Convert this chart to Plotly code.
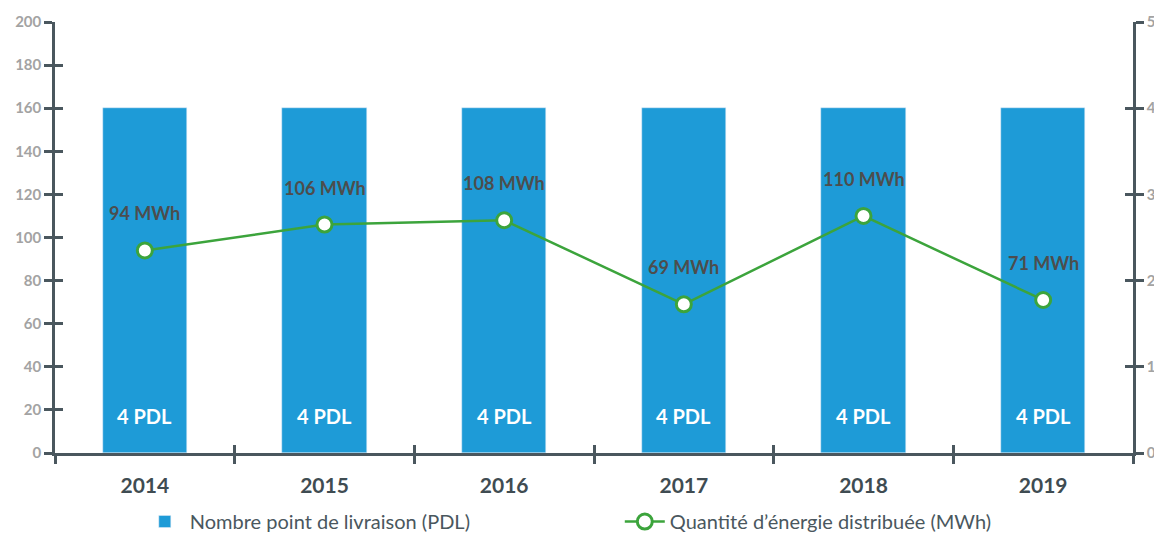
import plotly.graph_objects as go

years = ["2014", "2015", "2016", "2017", "2018", "2019"]
pdl = [4, 4, 4, 4, 4, 4]
mwh = [94, 106, 108, 69, 110, 71]
left_ticks = [0, 20, 40, 60, 80, 100, 120, 140, 160, 180, 200]
right_ticks = [0, 1, 2, 3, 4, 5]

BLUE = "#1e9bd7"
GREEN = "#3ca43c"
AXIS = "#4a575e"
TICKGREY = "#a3a3a3"
FONT = "Lato"

fig = go.Figure()

fig.add_trace(go.Bar(
    x=years, y=pdl, name="Nombre point de livraison (PDL)",
    marker_color=BLUE, width=0.47, yaxis="y", xaxis="x",
))
fig.add_trace(go.Scatter(
    x=years, y=mwh, name="Quantité d’énergie distribuée (MWh)",
    mode="lines+markers", yaxis="y2", xaxis="x",
    line=dict(color=GREEN, width=2.5),
    marker=dict(size=15, color="white", line=dict(color=GREEN, width=3)),
))

annotations = []
# x given as category index
for i, v in enumerate(mwh):
    annotations.append(dict(
        x=i, y=v, xref="x", yref="y2", yshift=37, showarrow=False,
        text=f"{v} MWh", font=dict(family=FONT, size=18, color="#4d4d4d", weight="bold"),
    ))
for i, n in enumerate(pdl):
    annotations.append(dict(
        x=i, y=0, xref="x", yref="y", yshift=37, showarrow=False,
        text=f"{n} PDL", font=dict(family=FONT, size=20, color="white", weight="bold"),
    ))

common_y = dict(showgrid=False, zeroline=False, showline=True, linecolor=AXIS,
                linewidth=2.5, tickcolor=AXIS, tickwidth=2.5, ticklen=8)

# page body adds an 8px margin, so the figure is sized to fit inside the window
fig.update_layout(
    width=1146, height=524,
    margin=dict(l=47, r=21, t=14, b=79),
    plot_bgcolor="white", paper_bgcolor="white",
    font=dict(family=FONT),
    bargap=0,
    xaxis=dict(type="category", categoryorder="array", categoryarray=years,
               range=[-0.5, 5.5], tickson="boundaries", ticks="outside",
               ticklen=8, tickwidth=2.5, tickcolor=AXIS,
               showline=True, linecolor=AXIS, linewidth=2.5, showgrid=False,
               tickfont=dict(family=FONT, size=21, color="#3f4c52", weight="bold"),
               ticklabelstandoff=12, automargin=False),
    xaxis2=dict(type="category", categoryorder="array", categoryarray=years,
                range=[-0.5, 5.5], tickson="boundaries", ticks="inside",
                ticklen=8, tickwidth=2.5, tickcolor=AXIS, overlaying="x",
                showticklabels=False, showgrid=False, anchor="y"),
    yaxis=dict(side="right", range=[0, 5], tickvals=right_ticks, ticks="outside",
               tickfont=dict(family=FONT, size=15, color=TICKGREY, weight="bold"),
               anchor="x", automargin=False, **common_y),
    yaxis2=dict(side="left", range=[0, 200], tickvals=left_ticks, ticks="outside",
                overlaying="y", anchor="x", automargin=False,
                tickfont=dict(family=FONT, size=15, color=TICKGREY, weight="bold"),
                **common_y),
    yaxis3=dict(side="left", range=[0, 200], tickvals=left_ticks, ticks="inside",
                overlaying="y", anchor="x", showticklabels=False, **common_y),
    yaxis4=dict(side="right", range=[0, 5], tickvals=right_ticks, ticks="inside",
                overlaying="y", anchor="x", showticklabels=False, **common_y),
    legend=dict(orientation="h", yref="container", xref="container",
                x=0.115, xanchor="left", y=0.02, yanchor="middle",
                font=dict(family=FONT, size=20, color=AXIS),
                itemwidth=40, entrywidth=425, tracegroupgap=0),
    annotations=annotations,
    showlegend=True,
)

# invisible helpers so the overlay axes get drawn
fig.add_trace(go.Scatter(x=[years[0]], y=[0], xaxis="x2", yaxis="y3", mode="markers",
                         marker=dict(opacity=0), showlegend=False, hoverinfo="skip"))
fig.add_trace(go.Scatter(x=[years[0]], y=[0], xaxis="x", yaxis="y4", mode="markers",
                         marker=dict(opacity=0), showlegend=False, hoverinfo="skip"))

fig.write_html("out.html")
